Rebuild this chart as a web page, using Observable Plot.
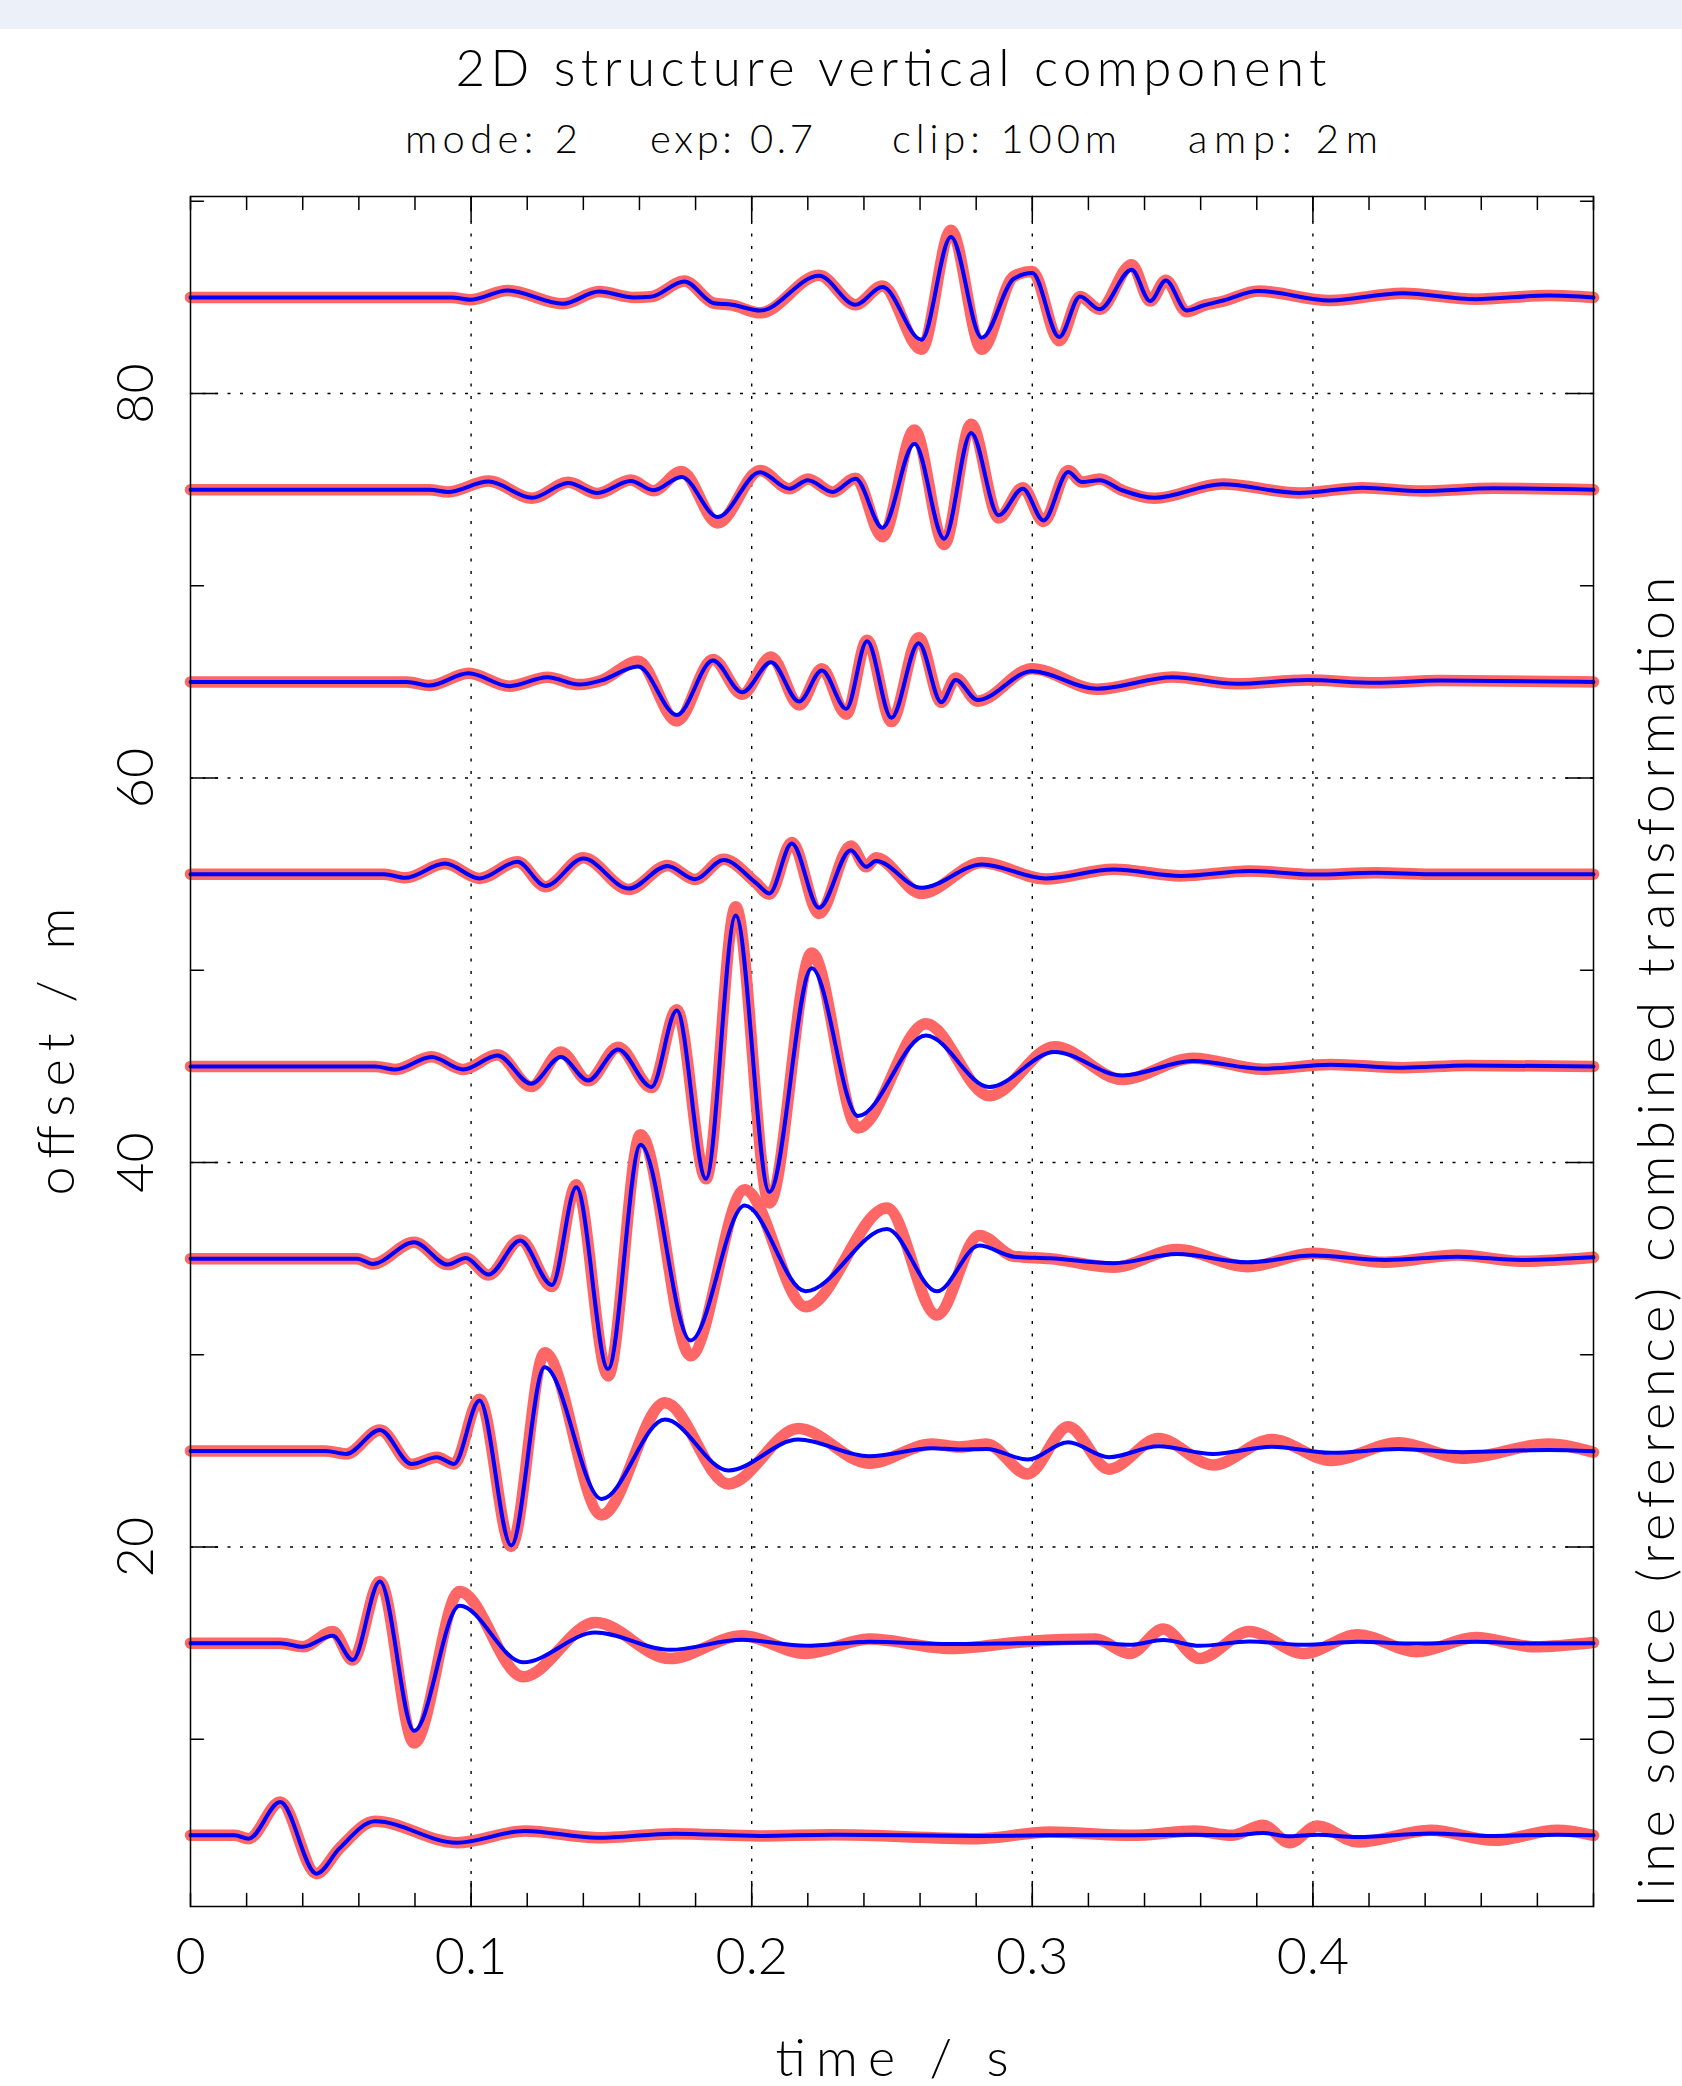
<!DOCTYPE html>
<html><head><meta charset="utf-8">
<script src="https://cdn.jsdelivr.net/npm/d3@7"></script>
<script src="https://cdn.jsdelivr.net/npm/@observablehq/plot@0.6"></script>
<style>
html,body{margin:0;padding:0;background:#fff;overflow:hidden}
#wrap{position:relative;width:1682px;height:2086px;background:#fff}
#band{position:absolute;left:0;top:0;width:1682px;height:29px;background:#ecf0f9}
#chart{position:absolute;left:0;top:0}
#head{position:absolute;left:0;top:0}
</style></head><body>
<div id="wrap"><div id="band"></div><div id="chart"></div></div>
<script>
// ---------- data: rows are [time s, red (reference) amplitude, blue (combined) amplitude] ----------
const offsets = [5, 15, 25, 35, 45, 55, 65, 75, 85];

const tr5 = [[0,0,0],[0.0158,0,0],[0.0207,-0.17,-0.17],[0.032,1.73,1.73],[0.0449,-1.99,-1.99],[0.053,-0.69,-0.69],[0.0658,0.73,0.73],[0.0949,-0.38,-0.38],[0.1191,0.23,0.23],[0.1449,-0.12,-0.12],[0.1724,0.09,0.09],[0.203,-0.03,-0.03],[0.2289,0.03,0.03],[0.2805,-0.17,-0.03],[0.3063,0.17,0.0],[0.3354,0.0,0.0],[0.358,0.23,0.03],[0.371,0.0,0.0],[0.3822,0.52,0.12],[0.3918,-0.38,-0.05],[0.4016,0.49,0.03],[0.416,-0.35,-0.09],[0.442,0.26,0.1],[0.4645,-0.26,-0.03],[0.4871,0.26,0.03],[0.5,0,0]];

const tr15 = [[0,0,0],[0.032,0,0],[0.04,-0.19,-0.19],[0.0507,0.6,0.38],[0.0578,-0.88,-0.88],[0.0675,3.2,3.2],[0.0797,-5.2,-4.56],[0.0959,2.69,1.94],[0.1185,-1.75,-1.0],[0.1443,1.07,0.55],[0.1708,-0.8,-0.35],[0.1966,0.38,0.17],[0.2192,-0.54,-0.14],[0.2418,0.21,0.07],[0.2709,-0.28,-0.05],[0.2983,0.09,0.0],[0.3225,0.21,0.03],[0.3347,-0.54,-0.09],[0.3467,0.73,0.16],[0.3596,-0.8,-0.14],[0.3773,0.61,0.09],[0.3967,-0.54,-0.09],[0.416,0.43,0.07],[0.437,-0.45,-0.02],[0.458,0.29,0.07],[0.479,-0.19,-0.02],[0.5,0.03,0]];

const tr25 = [[0,0,0],[0.0481,0,0],[0.0555,-0.16,-0.16],[0.0675,1.09,1.09],[0.0788,-0.7,-0.68],[0.0878,-0.33,-0.33],[0.0939,-0.68,-0.68],[0.103,2.68,2.62],[0.1143,-4.97,-4.92],[0.1262,5.1,4.35],[0.1465,-3.33,-2.5],[0.1691,2.5,1.63],[0.1917,-1.72,-1.02],[0.2166,1.16,0.59],[0.2418,-0.64,-0.28],[0.2644,0.36,0.14],[0.274,0.2,0.07],[0.2837,0.36,0.1],[0.2983,-1.2,-0.45],[0.3128,1.25,0.45],[0.3273,-0.95,-0.33],[0.345,0.64,0.24],[0.3644,-0.73,-0.16],[0.3854,0.59,0.22],[0.4064,-0.5,-0.1],[0.4306,0.42,0.1],[0.4532,-0.38,-0.07],[0.4839,0.36,0.05],[0.5,-0.07,-0.02]];

const tr35 = [[0,0,0],[0.0594,0,0],[0.0649,-0.28,-0.28],[0.0797,0.85,0.85],[0.0917,-0.31,-0.31],[0.0981,0.03,0.03],[0.1062,-0.85,-0.83],[0.1175,0.97,0.94],[0.1288,-1.45,-1.37],[0.1375,3.85,3.71],[0.1488,-6.1,-5.74],[0.1604,6.45,5.93],[0.1782,-5.05,-4.26],[0.1975,3.59,2.76],[0.2192,-2.5,-1.7],[0.2482,2.63,1.54],[0.266,-2.93,-1.7],[0.2811,1.21,0.68],[0.2934,0.12,0.1],[0.3063,0.0,0.02],[0.329,-0.45,-0.24],[0.3515,0.47,0.24],[0.3767,-0.42,-0.19],[0.40,0.28,0.16],[0.4257,-0.19,-0.07],[0.4516,0.19,0.1],[0.4742,-0.14,-0.07],[0.5,0.07,0.07]];

const tr45 = [[0,0,0],[0.0658,0,0],[0.073,-0.16,-0.16],[0.0859,0.5,0.49],[0.0972,-0.16,-0.16],[0.1094,0.6,0.57],[0.1214,-1.05,-0.9],[0.132,0.75,0.49],[0.1417,-0.75,-0.73],[0.1524,1.0,0.88],[0.1643,-1.1,-1.07],[0.1733,2.95,2.91],[0.1837,-5.85,-5.84],[0.1943,8.3,7.85],[0.2063,-7.1,-6.53],[0.2214,5.9,5.11],[0.2379,-3.2,-2.58],[0.2621,2.22,1.61],[0.2847,-1.53,-1.07],[0.308,1.02,0.75],[0.3321,-0.68,-0.47],[0.3573,0.43,0.28],[0.3822,-0.15,-0.12],[0.4064,0.1,0.09],[0.4322,-0.07,-0.07],[0.4548,0.05,0.05],[0.5,0,0]];

const tr55 = [[0,0,0],[0.069,0,0],[0.0765,-0.19,-0.19],[0.0907,0.55,0.55],[0.103,-0.22,-0.22],[0.1165,0.64,0.64],[0.1265,-0.65,-0.61],[0.14,0.85,0.81],[0.1562,-0.8,-0.75],[0.170,0.45,0.43],[0.1798,-0.28,-0.26],[0.190,0.78,0.73],[0.2015,-0.45,-0.45],[0.2063,-1.05,-1.0],[0.2143,1.65,1.59],[0.224,-2.05,-1.75],[0.2353,1.47,1.25],[0.2408,0.38,0.38],[0.2443,0.85,0.68],[0.2605,-1.0,-0.71],[0.2821,0.6,0.5],[0.3047,-0.25,-0.22],[0.329,0.26,0.24],[0.353,-0.09,-0.09],[0.3773,0.17,0.17],[0.40,-0.02,-0.02],[0.4225,0.07,0.07],[0.4419,0,0],[0.5,0,0]];

const tr65 = [[0,0,0],[0.0771,0,0],[0.0852,-0.19,-0.19],[0.0991,0.45,0.45],[0.1136,-0.22,-0.22],[0.1272,0.24,0.24],[0.1385,-0.14,-0.14],[0.1465,0.08,0.08],[0.1595,1.07,0.8],[0.1733,-2.03,-1.72],[0.1862,1.16,1.11],[0.1966,-0.64,-0.54],[0.2069,1.3,1.02],[0.2169,-1.2,-1.02],[0.225,0.68,0.59],[0.2337,-1.68,-1.4],[0.2411,2.17,2.11],[0.2498,-2.06,-1.87],[0.2595,2.3,2.01],[0.2676,-1.06,-1.06],[0.2727,0.2,0.1],[0.2805,-1.0,-0.94],[0.2999,0.68,0.55],[0.323,-0.38,-0.36],[0.35,0.26,0.24],[0.3725,-0.1,-0.1],[0.398,0.1,0.1],[0.4225,-0.05,-0.05],[0.445,0.07,0.07],[0.5,0,0]];

const tr75 = [[0,0,0],[0.0852,0,0],[0.0917,-0.12,-0.12],[0.1062,0.45,0.42],[0.1217,-0.45,-0.42],[0.1346,0.38,0.35],[0.145,-0.2,-0.17],[0.1569,0.5,0.45],[0.165,-0.05,-0.03],[0.175,0.95,0.66],[0.1879,-1.73,-1.42],[0.203,1.0,0.9],[0.2134,0.05,0.05],[0.22,0.55,0.49],[0.2289,-0.12,-0.12],[0.237,0.6,0.57],[0.2466,-2.45,-1.98],[0.258,3.1,2.39],[0.2686,-2.85,-2.55],[0.2782,3.4,2.95],[0.288,-1.47,-1.33],[0.2966,0.1,0.05],[0.304,-1.65,-1.6],[0.3128,1.0,0.92],[0.3176,0.4,0.4],[0.324,0.55,0.49],[0.332,-0.03,-0.03],[0.3435,-0.45,-0.42],[0.3677,0.3,0.28],[0.395,-0.17,-0.17],[0.4177,0.1,0.1],[0.4387,-0.07,-0.07],[0.4645,0.07,0.07],[0.5,0,0]];

const tr85 = [[0,0,0],[0.093,0,0],[0.0997,-0.12,-0.12],[0.113,0.36,0.36],[0.1327,-0.33,-0.33],[0.1456,0.31,0.31],[0.158,0.0,0.0],[0.164,0.03,0.03],[0.176,0.85,0.83],[0.1865,-0.3,-0.3],[0.193,-0.4,-0.38],[0.203,-0.8,-0.68],[0.224,1.15,1.13],[0.237,-0.38,-0.38],[0.2466,0.6,0.54],[0.2605,-2.7,-2.2],[0.271,3.5,3.14],[0.282,-2.7,-2.1],[0.2934,1.1,0.97],[0.300,1.35,1.27],[0.3096,-2.25,-2.06],[0.317,0.05,0.05],[0.324,-0.62,-0.62],[0.3354,1.7,1.44],[0.342,-0.19,-0.19],[0.3476,0.9,0.88],[0.355,-0.75,-0.68],[0.361,-0.42,-0.42],[0.368,-0.2,-0.16],[0.3806,0.33,0.33],[0.406,-0.16,-0.16],[0.432,0.22,0.22],[0.458,-0.09,-0.09],[0.484,0.1,0.1],[0.5,0,0]];

const xMinorTicks = [0,0.02,0.04,0.06,0.08,0.1,0.12,0.14,0.16,0.18,0.2,0.22,0.24,0.26,0.28,0.3,0.32,0.34,0.36,0.38,0.4,0.42,0.44,0.46,0.48,0.5];
const xMajorTicks = [0.1, 0.2, 0.3, 0.4];
const xTickValues = [0, 0.1, 0.2, 0.3, 0.4];
const xTickLabels = ["0", "0.1", "0.2", "0.3", "0.4"];
const yMinorTicks = [10, 30, 50, 70, 90];
const yMajorTicks = [20, 40, 60, 80];
const yTickLabels = ["20", "40", "60", "80"];
const gridX = [0.1, 0.2, 0.3, 0.4];
const gridY = [20, 40, 60, 80];

const titleText = "2D structure vertical component";
const subtitleParts = ["mode: 2", "exp: 0.7", "clip: 100m", "amp: 2m"];
const xLabel = "time / s";
const yLabel = "offset / m";
const rightLabel = "line source (reference) combined transformation";

// ---------- build ----------
const FONT = "Lato, 'Open Sans', 'DejaVu Sans', sans-serif";
const traceList = [tr5, tr15, tr25, tr35, tr45, tr55, tr65, tr75, tr85];
const rows = traceList.flatMap((tr, k) => tr.map(([t, r, b]) => ({offset: offsets[k], t, red: offsets[k] + r, blue: offsets[k] + b})));

const tickShape = {draw(context, l) { context.moveTo(0, 0); context.lineTo(0, -l); }};
const tk = {stroke: "#000", strokeWidth: 1.5, anchor: "start", shape: tickShape};

const chart = Plot.plot({
  width: 1682, height: 2086,
  marginLeft: 190, marginRight: 89, marginTop: 196, marginBottom: 180,
  style: `font-family: ${FONT}; font-weight: 300; background: transparent; overflow: visible; color: #000;`,
  x: {domain: [0, 0.5]},
  y: {domain: [1.3, 90.25]},
  marks: [
    Plot.ruleX(gridX, {stroke: "#000", strokeWidth: 1.4, strokeDasharray: "3,9.5"}),
    Plot.ruleY(gridY, {stroke: "#000", strokeWidth: 1.4, strokeDasharray: "3,9.5"}),
    Plot.line(rows, {x: "t", y: "red", z: "offset", stroke: "#ff6666", strokeWidth: 11.5, strokeLinecap: "round", strokeLinejoin: "round", curve: "monotone-x"}),
    Plot.line(rows, {x: "t", y: "blue", z: "offset", stroke: "#0000ff", strokeWidth: 4, strokeLinejoin: "round", curve: "monotone-x"}),
    Plot.frame({stroke: "#000", strokeWidth: 1.5}),
    Plot.vector(xMinorTicks, {x: d => d, frameAnchor: "bottom", length: 13, rotate: 0, ...tk}),
    Plot.vector(xMajorTicks, {x: d => d, frameAnchor: "bottom", length: 25, rotate: 0, ...tk}),
    Plot.vector(xMinorTicks, {x: d => d, frameAnchor: "top", length: 13, rotate: 180, ...tk}),
    Plot.vector(xMajorTicks, {x: d => d, frameAnchor: "top", length: 25, rotate: 180, ...tk}),
    Plot.vector(yMinorTicks, {y: d => d, frameAnchor: "left", length: 13, rotate: 90, ...tk}),
    Plot.vector(yMajorTicks, {y: d => d, frameAnchor: "left", length: 27, rotate: 90, ...tk}),
    Plot.vector(yMinorTicks, {y: d => d, frameAnchor: "right", length: 13, rotate: -90, ...tk}),
    Plot.vector(yMajorTicks, {y: d => d, frameAnchor: "right", length: 27, rotate: -90, ...tk}),
    Plot.axisX({anchor: "bottom", ticks: xTickValues, tickSize: 0, tickPadding: 31, fontSize: 52,
      tickFormat: (d, i) => xTickLabels[i], label: xLabel, labelAnchor: "center", labelOffset: 169, labelArrow: "none"}),
    Plot.axisY({anchor: "left", ticks: yMajorTicks, tickSize: 0, tickPadding: 38, tickRotate: -90, fontSize: 52,
      tickFormat: (d, i) => yTickLabels[i], label: yLabel, labelAnchor: "center", labelOffset: 153, labelArrow: "none"}),
    Plot.text([rightLabel], {text: d => d, frameAnchor: "bottom-right", rotate: -90, textAnchor: "start", lineAnchor: "top", dx: 44, fontSize: 52})
  ]
});
document.getElementById("chart").appendChild(chart);

const lengths = {[xLabel]: 233, [yLabel]: 288, [rightLabel]: 1330};
d3.select(chart).selectAll("text").each(function() {
  const L = lengths[this.textContent];
  if (L) { this.setAttribute("textLength", L); this.setAttribute("lengthAdjust", "spacing"); }
});

// ---------- heading ----------
const head = d3.select("#wrap").append("svg").attr("id", "head").attr("width", 1682).attr("height", 180)
  .style("font-family", FONT).style("font-weight", 300);
head.append("text").attr("x", 891).attr("y", 86).attr("text-anchor", "middle").attr("font-size", 51)
  .attr("textLength", 871).attr("lengthAdjust", "spacing").text(titleText);
const subX = [405, 650, 892, 1188], subW = [173, 163, 225, 190];
subtitleParts.forEach((s, i) => {
  head.append("text").attr("x", subX[i]).attr("y", 153).attr("font-size", 40)
    .attr("textLength", subW[i]).attr("lengthAdjust", "spacing").text(s);
});
</script></body></html>
